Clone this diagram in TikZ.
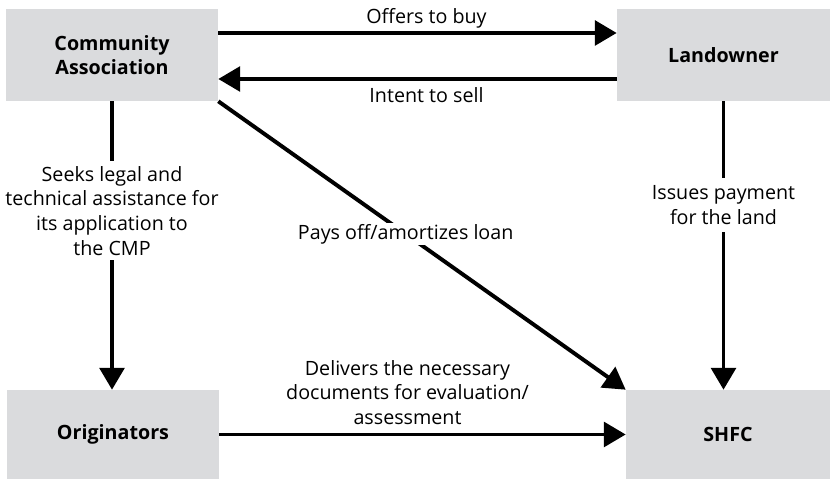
\documentclass[tikz,border=0pt]{standalone}
\usepackage{fontspec}
\setmainfont{Open Sans}
\usepackage{xcolor}
\usetikzlibrary{arrows.meta, positioning}
\definecolor{boxgray}{RGB}{218,219,221}

\begin{document}
\begin{tikzpicture}[
    x=0.025cm, y=0.025cm,
    box/.style={rectangle, fill=boxgray, minimum width=5.3cm, minimum height=2.3cm, align=center, font=\fontsize{14}{17.5}\selectfont\bfseries},
    lbl/.style={align=center, font=\fontsize{14}{17.5}\selectfont},
    gap/.style={lbl, fill=white, inner xsep=1pt, inner ysep=3.5pt},
    arrow/.style={line width=2.8pt, -{Triangle[length=15.5pt, width=17.5pt]}}
]
    \useasboundingbox (0,0) rectangle (830,479);

    \node [box] (assoc) at (112,424) {Community\\Association};
    \node [box, minimum width=5.325cm] (owner) at (723.5,424) {Landowner};
    \node [box, minimum height=2.225cm] (orig) at (113,44.5) {Originators};
    \node [box, minimum width=5.1cm, minimum height=2.225cm] (shfc) at (728,44.5) {SHFC};

    \draw [arrow] ([yshift=0.55cm]assoc.east) -- node [lbl, above, inner ysep=2.3pt, xshift=0.225cm] {Offers to buy} ([yshift=0.55cm]owner.west);
    \draw [arrow] ([yshift=-0.6cm]owner.west) -- node [lbl, below, inner ysep=4.5pt, xshift=0.225cm] {Intent to sell} ([yshift=-0.6cm]assoc.east);
    \draw [arrow] (assoc.south) -- node [gap, pos=0.38] {Seeks legal and\\technical assistance for\\its application to\\the CMP} (assoc.south |- orig.north);
    \draw [arrow] (owner.south) -- node [gap, pos=0.36, inner ysep=5.5pt] {Issues payment\\for the land} (owner.south |- shfc.north);
    \draw [arrow] (assoc.south east) -- node [gap, pos=0.46, inner ysep=1pt] {Pays off/amortizes loan} (shfc.north west);
    \draw [arrow] (orig) -- node [lbl, above, inner ysep=5.7pt, xshift=-0.375cm] {Delivers the necessary\\documents for evaluation/\\assessment} (shfc);
\end{tikzpicture}
\end{document}
